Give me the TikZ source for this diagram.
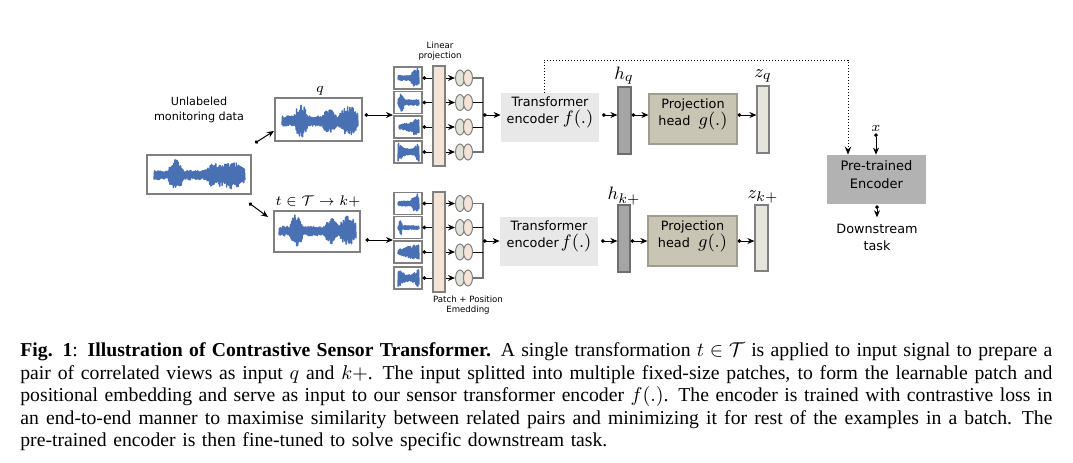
\documentclass[tikz,border=0pt]{standalone}
\usepackage{fontspec}
\usetikzlibrary{arrows.meta,shapes.geometric,fit}
\newfontfamily\dv{DejaVu Sans}
\newfontfamily\capfont{Liberation Serif}
\definecolor{wblue}{HTML}{4A70B4}
\definecolor{bgray}{HTML}{808080}
\definecolor{peach}{HTML}{F4E4D8}
\definecolor{ovgray}{HTML}{E2E2DA}
\definecolor{tfill}{HTML}{E8E8E8}
\definecolor{hfill}{HTML}{A5A5A5}
\definecolor{hdraw}{HTML}{6E6E6E}
\definecolor{pfill}{HTML}{C9C5B5}
\definecolor{pdraw}{HTML}{A09C90}
\definecolor{zfill}{HTML}{E5E5DD}
\definecolor{prefill}{HTML}{B2B2B2}
\newcommand\wavesig[7]{%
  \pgfmathsetseed{#7}%
  \draw[wave] plot[domain=0:1, samples=#6, variable=\x]
    ({#1+(#2-#1)*\x}, {#3 + #4*(#5)*(1-2*mod(round(\x*(#6-1)),2))*(0.55+0.45*rnd)});
}
\newcommand\capline[1]{\hbox to 516pt{\spaceskip=0.25em plus 2em minus 0.06em\relax #1}}
\begin{document}
\begin{tikzpicture}[x=0.5pt,y=-0.5pt,
  declare function={bump(\t,\c,\w)=max(0,1-((\t-\c)/\w)^2);},
  box/.style={draw=bgray, line width=0.6pt, inner sep=0pt, fill=white},
  wave/.style={draw=wblue, line width=0.75pt, line join=round},
  conn/.style={{Circle[length=1.8pt]}-{Stealth[length=3.5pt,width=3pt]}, line width=0.5pt},
  lbl/.style={font=\dv\fontsize{6.4}{8.4}\selectfont, align=center},
  smalllbl/.style={font=\dv\fontsize{4.3}{5.3}\selectfont, align=center},
  mlbl/.style={font=\fontsize{7.5}{8}\selectfont, inner sep=1pt},
  hlbl/.style={font=\fontsize{9.5}{10}\selectfont, inner sep=1pt},
  oval/.style={ellipse, draw=bgray, line width=0.5pt, minimum width=4.5pt, minimum height=8pt, inner sep=0pt},
  bar/.style={draw=bgray, line width=0.6pt, fill=peach, inner sep=0pt},
  brk/.style={draw=bgray!90!black, line width=0.9pt},
  mid/.style={line width=0.5pt},
  tbox/.style={fill=tfill, inner sep=0pt},
  hbar/.style={draw=hdraw, line width=0.6pt, fill=hfill, inner sep=0pt},
  pbox/.style={draw=pdraw, line width=0.6pt, fill=pfill, inner sep=0pt},
  zbar/.style={draw=bgray, line width=0.6pt, fill=zfill, inner sep=0pt},
  prebox/.style={fill=prefill, inner sep=0pt},
  dotline/.style={densely dotted, line width=0.5pt, -{Stealth[length=4pt,width=3.2pt]}}
]
\useasboundingbox (0,0) rectangle (1073,462);

% ---------------- input ----------------
\node[font=\dv\fontsize{5.6}{7.5}\selectfont, align=center] (ulab) at (199,110) {Unlabeled\\monitoring data};
\node[box, fit={(147,155)(251,194)}] (ubox) {};
\wavesig{154}{245}{175}{16}{0.3+0.7*bump(\x,0.24,0.09)+0.45*bump(\x,0.66,0.1)+0.6*bump(\x,0.86,0.16)}{161}{11}

% ---------------- views ----------------
\node[box, fit={(275,98)(362,141)}] (qbox) {};
\node[mlbl] (qlab) at (320,91) {$q$};
\wavesig{282}{358}{121}{17}{0.3+0.7*bump(\x,0.25,0.09)+0.4*bump(\x,0.62,0.1)+0.55*bump(\x,0.88,0.14)}{141}{12}

\node[box, fit={(274,211)(360,252)}] (kbox) {};
\node[mlbl] (klab) at (318,201) {$t\in\mathcal{T}\rightarrow k{+}$};
\wavesig{279}{356}{231}{17}{0.28+0.72*bump(\x,0.23,0.09)+0.5*bump(\x,0.68,0.1)+0.6*bump(\x,0.9,0.12)}{141}{13}

\coordinate (u1) at (255,143);
\coordinate (qin) at (274,131);
\coordinate (u2) at (249,203);
\coordinate (kin) at (268,217);
\draw[conn] (u1) -- (qin);
\draw[conn] (u2) -- (kin);

% ---------------- patches ----------------
\coordinate (pinA) at (393,115);
\coordinate (pinB) at (393,240);
\draw[conn] (qbox.east |- pinA) ++(2,0) -- (pinA);
\draw[conn] (kbox.east |- pinB) ++(5,0) -- (pinB);

\node[box, fit={(394,67)(422,89)}] (pa1) {};
\node[box, fit={(394,91.5)(422,113.5)}] (pa2) {};
\node[box, fit={(394,116)(422,138)}] (pa3) {};
\node[box, fit={(394,141)(422,163)}] (pa4) {};
\wavesig{398}{419}{78}{10}{0.25+0.75*bump(\x,0.92,0.35)}{41}{21}
\wavesig{398}{419}{102.5}{9.5}{0.3+0.7*bump(\x,0.15,0.15)}{41}{22}
\wavesig{399}{419}{127}{9}{0.2+0.6*\x+0.2*bump(\x,0.8,0.2)}{41}{23}
\wavesig{398}{419}{152}{10}{0.35+0.65*((\x-0.5)/0.5)^2}{41}{24}

\node[box, fit={(394,192.5)(422,214.5)}] (pb1) {};
\node[box, fit={(394,216.5)(422,238.5)}] (pb2) {};
\node[box, fit={(394,241)(422,263)}] (pb3) {};
\node[box, fit={(394,267)(422,289)}] (pb4) {};
\wavesig{398}{419}{203.5}{10}{0.25+0.75*bump(\x,0.9,0.3)}{41}{31}
\wavesig{398}{419}{227.5}{9.5}{0.2+0.8*bump(\x,0.12,0.08)}{41}{32}
\wavesig{398}{419}{252}{9}{0.25+0.75*\x}{41}{33}
\wavesig{398}{419}{278}{10}{0.35+0.65*((\x-0.5)/0.5)^2}{41}{34}

% ovals
\foreach \i/\yy in {1/78,2/102.5,3/127,4/152}{
  \node[oval, fill=ovgray] (oaa\i) at (460,\yy) {};
  \node[oval, fill=peach] (oab\i) at (468,\yy) {};
  \draw[conn] (pa\i.east |- oaa\i) -- (oaa\i.west);
}
\foreach \i/\yy in {1/203.5,2/227.5,3/252,4/278}{
  \node[oval, fill=ovgray] (oba\i) at (460,\yy) {};
  \node[oval, fill=peach] (obb\i) at (468,\yy) {};
  \draw[conn] (pb\i.east |- oba\i) -- (oba\i.west);
}

% linear projection bars
\node[bar, fit={(433,66)(445,166)}] (lpA) {};
\node[bar, fit={(433,192)(445,292)}] (lpB) {};
\node[smalllbl] (lplab) at (440,51) {Linear\\projection};
\node[smalllbl] (pelab) at (468,305) {Patch + Position\\Emedding};

% brackets
\coordinate (btA) at (483,78);
\coordinate (bbA) at (483,152);
\coordinate (bmA) at (483,115);
\coordinate (btB) at (483,203.5);
\coordinate (bbB) at (483,278);
\coordinate (bmB) at (483,241);
\draw[brk] (oab1.east) -- (btA) -- (bbA) -- (oab4.east);
\draw[mid] (oab2.east) -- (oab2.east -| btA);
\draw[mid] (oab3.east) -- (oab3.east -| btA);
\draw[brk] (obb1.east) -- (btB) -- (bbB) -- (obb4.east);
\draw[mid] (obb2.east) -- (obb2.east -| btB);
\draw[mid] (obb3.east) -- (obb3.east -| btB);

% ---------------- encoders ----------------
\node[tbox, lbl, fit={(501,93)(599,142)}] (trA) {Transformer\\encoder\ {\fontsize{9.2}{9}\selectfont$f(.)$}};
\node[tbox, lbl, fit={(500,217)(598,266)}] (trB) {Transformer\\encoder\,{\fontsize{9.2}{9}\selectfont$f(.)$}};

\node[hbar, fit={(618,87)(631,154)}] (hA) {};
\node[hbar, fit={(618,205)(630,272)}] (hB) {};
\node[hlbl] (hAl) at (624,76) {$h_q$};
\node[hlbl] (hBl) at (624,196) {$h_{k+}$};

\node[pbox, lbl, fit={(649,94)(737,144)}] (prA) {Projection\\head\ \ {\fontsize{9.5}{9}\selectfont$g(.)$}};
\node[pbox, lbl, fit={(648,216)(737,266)}] (prB) {Projection\\head\ \ {\fontsize{9.5}{9}\selectfont$g(.)$}};

\node[zbar, fit={(757,86)(769,153)}] (zA) {};
\node[zbar, fit={(755,205)(768,271)}] (zB) {};
\node[hlbl] (zAl) at (763,76) {$z_q$};
\node[hlbl] (zBl) at (763,197) {$z_{k+}$};

\draw[conn] (bmA) -- (trA.west |- bmA);
\draw[conn] (bmB) -- (trB.west |- bmB);
\draw[conn, shorten <=1.3pt] (trA.east |- bmA) -- (hA.west |- bmA);
\draw[conn, shorten <=1.3pt] (trB.east |- bmB) -- (hB.west |- bmB);
\draw[conn] (hA.east |- bmA) -- (prA.west |- bmA);
\draw[conn] (hB.east |- bmB) -- (prB.west |- bmB);
\draw[conn] (prA.east |- bmA) -- (zA.west |- bmA);
\draw[conn] (prB.east |- bmB) -- (zB.west |- bmB);

% ---------------- downstream ----------------
\node[prebox, lbl, font=\dv\fontsize{6.5}{8.8}\selectfont, fit={(827,155)(926,204)}] (pre) {Pre-trained\\Encoder};
\node[mlbl] (xl) at (876,128) {$x$};
\node[lbl] (ds) at (877,237.5) {Downstream\\task};
\coordinate (d1) at (544,60);
\coordinate (d2) at (848,60);
\draw[dotline] (trA.north -| d1) -- (d1) -- (d2) -- (pre.north -| d2);
\draw[conn] (xl.south) -- (pre.north -| xl);
\draw[conn] (pre.south -| ds) ++(0,1) -- (ds.north);

% ---------------- caption ----------------
\node[anchor=north west, inner sep=0pt, text width=516pt,
      font=\capfont\fontsize{9.85}{11.25}\selectfont] (cap) at (20,342.5) {%
\capline{\textbf{Fig. 1}: \textbf{Illustration of Contrastive Sensor Transformer.} A single transformation $t\in\mathcal{T}$ is applied to input signal to prepare a}
\capline{pair of correlated views as input $q$ and $k+$. The input splitted into multiple fixed-size patches, to form the learnable patch and}
\capline{positional embedding and serve as input to our sensor transformer encoder $f(.)$. The encoder is trained with contrastive loss in}
\capline{an end-to-end manner to maximise similarity between related pairs and minimizing it for rest of the examples in a batch. The}
\hbox{pre-trained encoder is then fine-tuned to solve specific downstream task.}};
\end{tikzpicture}
\end{document}
